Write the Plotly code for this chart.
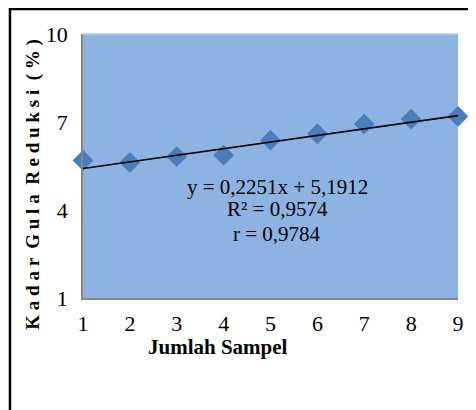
import plotly.graph_objects as go

# Data
sampel = [1, 2, 3, 4, 5, 6, 7, 8, 9]
kadar = [5.69, 5.62, 5.82, 5.87, 6.38, 6.60, 6.93, 7.10, 7.19]
slope = 0.2251
intercept = 5.1912
eq_lines = ["y = 0,2251x + 5,1912", "R² = 0,9574", "r = 0,9784"]
y_ticks = [1, 4, 7, 10]
x_ticks = [1, 2, 3, 4, 5, 6, 7, 8, 9]
x_title = "Jumlah Sampel"
y_title = "Kadar Gula Reduksi (%)"

OFF = 8  # page body margin
W, H = 476 - OFF, 410 - OFF
L, T = 83 - OFF, 34 - OFF
R = W - (463 - OFF)
B = H - (298 - OFF)
pw, ph = W - L - R, H - T - B

def px(x):
    return (x - OFF - L) / pw

def py(y):
    return (H - B - (y - OFF)) / ph

FONT = "Liberation Serif, Times New Roman, serif"

trend_x = [sampel[0], sampel[-1]]
trend_y = [slope * v + intercept for v in trend_x]

fig = go.Figure()
fig.add_trace(go.Scatter(
    x=sampel, y=kadar, mode="markers",
    marker=dict(symbol="diamond", size=16, color="#4A7EBB", line=dict(width=0)),
    cliponaxis=False, showlegend=False, hoverinfo="skip"))
fig.add_trace(go.Scatter(
    x=trend_x, y=trend_y, mode="lines",
    line=dict(color="black", width=1.6),
    cliponaxis=False, showlegend=False, hoverinfo="skip"))

fig.update_layout(
    width=W, height=H,
    margin=dict(l=L, r=R, t=T, b=B, pad=0),
    paper_bgcolor="white",
    plot_bgcolor="#8DB3E2",
    font=dict(family=FONT, color="black", size=22),
    showlegend=False,
)
fig.update_xaxes(
    range=[1, 9], tickvals=x_ticks, ticktext=[str(v) for v in x_ticks],
    showgrid=False, zeroline=False, showline=True, linecolor="#868686", linewidth=1.5,
    ticks="", ticklabelstandoff=5, tickfont=dict(family=FONT, size=22, color="black"))
fig.update_yaxes(
    range=[1, 10], tickvals=y_ticks, ticktext=[str(v) for v in y_ticks],
    showgrid=False, zeroline=False, showline=True, linecolor="#868686", linewidth=1.5,
    ticks="", ticklabelstandoff=9, tickfont=dict(family=FONT, size=22, color="black"))

annotations = []
eq_y = [187, 209, 234]
for txt, yy in zip(eq_lines, eq_y):
    annotations.append(dict(
        text=txt, xref="paper", yref="paper", x=px(280), y=py(yy),
        xanchor="center", yanchor="middle", showarrow=False,
        font=dict(family=FONT, size=21, color="black")))
annotations.append(dict(
    text="<b>" + x_title + "</b>", xref="paper", yref="paper", x=px(220), y=py(347),
    xanchor="center", yanchor="middle", showarrow=False,
    font=dict(family=FONT, size=21, color="black")))
spaced = " ".join(list(y_title)).replace("   ", "  ")
annotations.append(dict(
    text="<b>" + spaced + "</b>", xref="paper", yref="paper", x=px(32), y=py(184),
    xanchor="center", yanchor="middle", showarrow=False, textangle=-90,
    font=dict(family=FONT, size=19, color="black")))
fig.update_layout(annotations=annotations)

fig.add_shape(type="rect", xref="paper", yref="paper",
              x0=px(9), x1=px(490), y0=py(430), y1=py(9),
              line=dict(color="black", width=2.5), fillcolor="rgba(0,0,0,0)", layer="above")
fig.add_shape(type="line", xref="paper", yref="paper", x0=0, x1=1, y0=1, y1=1,
              line=dict(color="#B9CDE5", width=1.5), layer="below")

fig.write_html("out.html")
